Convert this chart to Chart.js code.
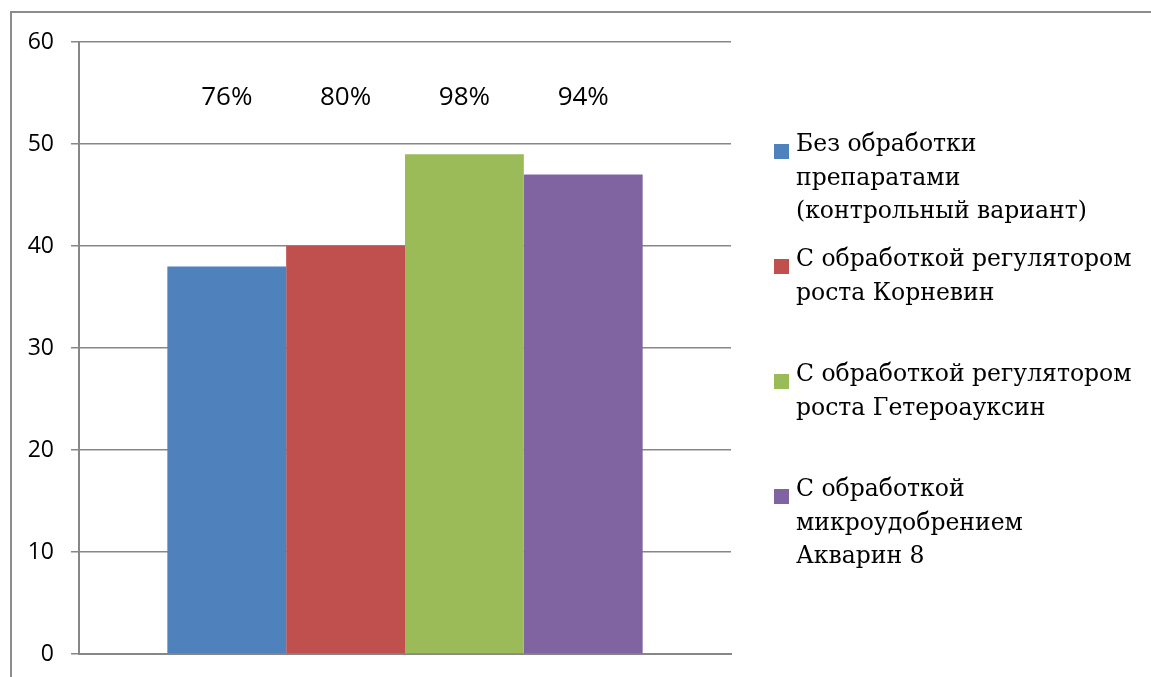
<!DOCTYPE html>
<html>
<head>
<meta charset="utf-8">
<script src="https://cdn.jsdelivr.net/npm/chart.js@4/dist/chart.umd.min.js"></script>
<style>
  html, body { margin: 0; padding: 0; background: #fff; overflow: hidden; }
  #wrap { position: relative; width: 1151px; height: 677px; }
  #frame { position: absolute; left: 10px; top: 11px; width: 1200px; height: 800px;
           border: 2px solid #8c8c8c; box-sizing: border-box; }
  #chartCanvas { position: absolute; left: 0; top: 0; }
  #legend { position: absolute; left: 774px; top: 127px; font-family: "DejaVu Serif", serif;
            font-size: 23.5px; line-height: 33.5px; color: #000; }
  .item { position: relative; height: 115px; padding-left: 22px; }
  .box { position: absolute; left: 0; top: 17px; width: 15px; height: 15px; }
</style>
</head>
<body>
<div id="wrap">
  <div id="frame"></div>
  <canvas id="chartCanvas" width="1151" height="677"></canvas>
  <div id="legend"></div>
</div>
<script>
// --------------------------------
// Data
// --------------------------------
const categories = [''];
const seriesNames = [
    ['Без обработки', 'препаратами', '(контрольный вариант)'],
    ['С обработкой регулятором', 'роста Корневин'],
    ['С обработкой регулятором', 'роста Гетероауксин'],
    ['С обработкой', 'микроудобрением', 'Акварин 8']
];
const seriesValues = [38, 40, 49, 47];
const percentLabels = ['76%', '80%', '98%', '94%'];
const seriesColors = ['#4F81BD', '#C0504D', '#9BBB59', '#8064A2'];
const yTicks = [0, 10, 20, 30, 40, 50, 60];

const gridColor = '#878787';

// Draws the percentage text over each bar
const percentPlugin = {
    id: 'percentLabels',
    afterDatasetsDraw(chart) {
        const ctx = chart.ctx;
        ctx.save();
        ctx.font = '26px "Open Sans"';
        ctx.fillStyle = '#000';
        ctx.textAlign = 'center';
        ctx.textBaseline = 'middle';
        chart.data.datasets.forEach((ds, i) => {
            const bar = chart.getDatasetMeta(i).data[0];
            ctx.fillText(percentLabels[i], bar.x, chart.chartArea.top + 56);
        });
        ctx.restore();
    }
};

const ctx = document.getElementById('chartCanvas').getContext('2d');
const chart = new Chart(ctx, {
    type: 'bar',
    data: {
        labels: categories,
        datasets: seriesValues.map((v, i) => ({
            label: seriesNames[i].join(' '),
            data: [v],
            backgroundColor: seriesColors[i],
            borderWidth: 0
        }))
    },
    options: {
        responsive: false,
        animation: false,
        events: [],
        categoryPercentage: 0.729,
        barPercentage: 1,
        layout: { padding: { left: 0, right: 420, top: 42, bottom: 23 } },
        plugins: {
            legend: { display: false },
            tooltip: { enabled: false }
        },
        scales: {
            x: {
                ticks: { display: false },
                grid: { display: false },
                border: { display: true, color: gridColor, width: 2 },
                afterFit(scale) { scale.height = 0; }
            },
            y: {
                min: 0,
                max: 60,
                afterBuildTicks(scale) { scale.ticks = yTicks.map(v => ({ value: v })); },
                ticks: {
                    color: '#000',
                    padding: 17,
                    font: { family: '"Open Sans"', size: 23 }
                },
                grid: { color: gridColor, lineWidth: 1.5, tickLength: 8 },
                border: { display: true, color: gridColor, width: 2 },
                afterFit(scale) {
                    scale.width = 79;
                    scale.paddingTop = 0;
                    scale.paddingBottom = 0;
                }
            }
        }
    },
    plugins: [percentPlugin]
});

// HTML legend built from the chart datasets
const legendEl = document.getElementById('legend');
chart.data.datasets.forEach((ds, i) => {
    const item = document.createElement('div');
    item.className = 'item';
    const box = document.createElement('div');
    box.className = 'box';
    box.style.background = ds.backgroundColor;
    item.appendChild(box);
    item.insertAdjacentHTML('beforeend', seriesNames[i].join('<br>'));
    legendEl.appendChild(item);
});
</script>
</body>
</html>
